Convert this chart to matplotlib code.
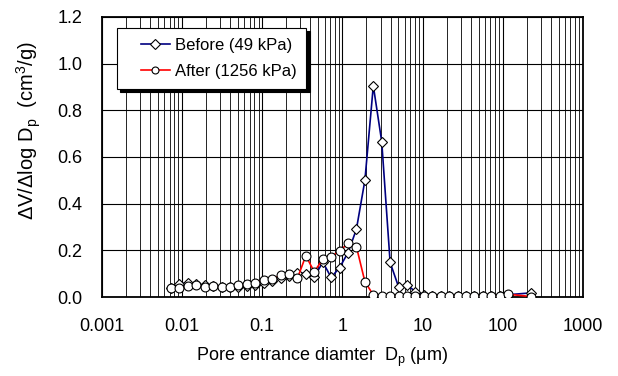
import matplotlib
matplotlib.use("Agg")
import matplotlib.pyplot as plt
from matplotlib.lines import Line2D
from matplotlib.legend_handler import HandlerLine2D
from matplotlib.ticker import FixedLocator, FixedFormatter, LogLocator, NullFormatter

plt.rcParams['font.family'] = ['Liberation Sans', 'DejaVu Sans']
plt.rcParams['mathtext.fontset'] = 'custom'
plt.rcParams['mathtext.rm'] = 'Liberation Sans'
plt.rcParams['mathtext.it'] = 'Liberation Sans:italic'

# Pore diameters (um)
diameter = [0.00726, 0.00925, 0.01178, 0.01503, 0.01914, 0.02438, 0.03105, 0.03954,
            0.05042, 0.06427, 0.08185, 0.1042, 0.1327, 0.1694, 0.2158, 0.2748,
            0.3499, 0.4457, 0.5689, 0.7244, 0.9226, 1.175, 1.496, 1.910,
            2.432, 3.097, 3.945, 5.023, 6.412, 8.166, 10.40, 13.24,
            16.87, 21.53, 27.42, 34.91, 44.46, 56.62, 72.27, 92.04,
            117.2, 229.0]

before = [0.040, 0.055, 0.062, 0.054, 0.050, 0.046, 0.045, 0.042,
          0.045, 0.047, 0.052, 0.060, 0.070, 0.080, 0.090, 0.105,
          0.100, 0.084, 0.150, 0.084, 0.126, 0.190, 0.290, 0.500,
          0.905, 0.666, 0.148, 0.044, 0.052, 0.023, 0.010, 0.006,
          0.005, 0.004, 0.004, 0.004, 0.004, 0.004, 0.004, 0.004,
          0.010, 0.018]

after = [0.037, 0.040, 0.047, 0.050, 0.044, 0.047, 0.043, 0.044,
         0.050, 0.056, 0.061, 0.074, 0.077, 0.094, 0.100, 0.080,
         0.177, 0.108, 0.162, 0.173, 0.197, 0.230, 0.216, 0.066,
         0.009, 0.004, 0.003, 0.003, 0.003, 0.003, 0.003, 0.003,
         0.003, 0.003, 0.003, 0.003, 0.003, 0.003, 0.003, 0.003,
         0.012, 0.002]

labels = ['Before (49 kPa)', 'After (1256 kPa)']
xticks = [0.001, 0.01, 0.1, 1, 10, 100, 1000]
xticklabels = ['0.001', '0.01', '0.1', '1', '10', '100', '1000']
yticks = [0.0, 0.2, 0.4, 0.6, 0.8, 1.0, 1.2]
yticklabels = ['0.0', '0.2', '0.4', '0.6', '0.8', '1.0', '1.2']

fig = plt.figure(figsize=(6.18, 3.76), dpi=100)
ax = fig.add_axes([0.165, 0.210, 0.778, 0.745])

ax.plot(diameter, before, color='#000080', lw=1.2, marker='D', ms=5.0,
        mfc='white', mec='black', mew=0.8, label=labels[0], zorder=3)
ax.plot(diameter, after, color='#FF0000', lw=1.2, marker='o', ms=6.4,
        mfc='white', mec='black', mew=0.8, label=labels[1], zorder=4)

ax.set_xscale('log')
ax.set_xlim(0.001, 1000)
ax.set_ylim(0, 1.2)
ax.xaxis.set_major_locator(FixedLocator(xticks))
ax.xaxis.set_major_formatter(FixedFormatter(xticklabels))
ax.xaxis.set_minor_locator(LogLocator(base=10, subs=range(2, 10), numticks=50))
ax.xaxis.set_minor_formatter(NullFormatter())
ax.yaxis.set_major_locator(FixedLocator(yticks))
ax.yaxis.set_major_formatter(FixedFormatter(yticklabels))

ax.grid(True, which='major', axis='both', color='black', lw=0.8)
ax.grid(True, which='minor', axis='x', color='black', lw=0.6)
ax.set_axisbelow(True)
ax.tick_params(which='both', direction='in', length=0, labelsize=13)
ax.tick_params(axis='x', pad=15)
ax.tick_params(axis='y', pad=14)
for s in ax.spines.values():
    s.set_linewidth(1.3)
    s.set_color('black')

fig.text(322 / 618, 1 - 357 / 376, 'Pore entrance diamter  D$_\\mathrm{p}$ ($\\mathrm{\\mu}$m)',
         fontsize=13, ha='center', va='center')
fig.text(29 / 618, 1 - 131 / 376, '$\\Delta$V/$\\Delta$log D$_\\mathrm{p}$  (cm$^3$/g)',
         fontsize=14.5, ha='center', va='center', rotation=90)

leg = ax.legend(loc='upper left', bbox_to_anchor=(0.031, 0.961), frameon=True, fancybox=False,
                framealpha=1, edgecolor='black', fontsize=12, numpoints=1,
                handlelength=2.56, handletextpad=0.3, borderpad=0.6, labelspacing=0.65,
                borderaxespad=0.0,
                handler_map={Line2D: HandlerLine2D(xpad=0.82)},
                shadow={'color': 'black', 'alpha': 1, 'ox': 2.5, 'oy': -2.5})
leg.get_frame().set_linewidth(0.8)
for h in leg.legend_handles:
    h.set_markersize(5)

fig.savefig('out.png', dpi=100)
